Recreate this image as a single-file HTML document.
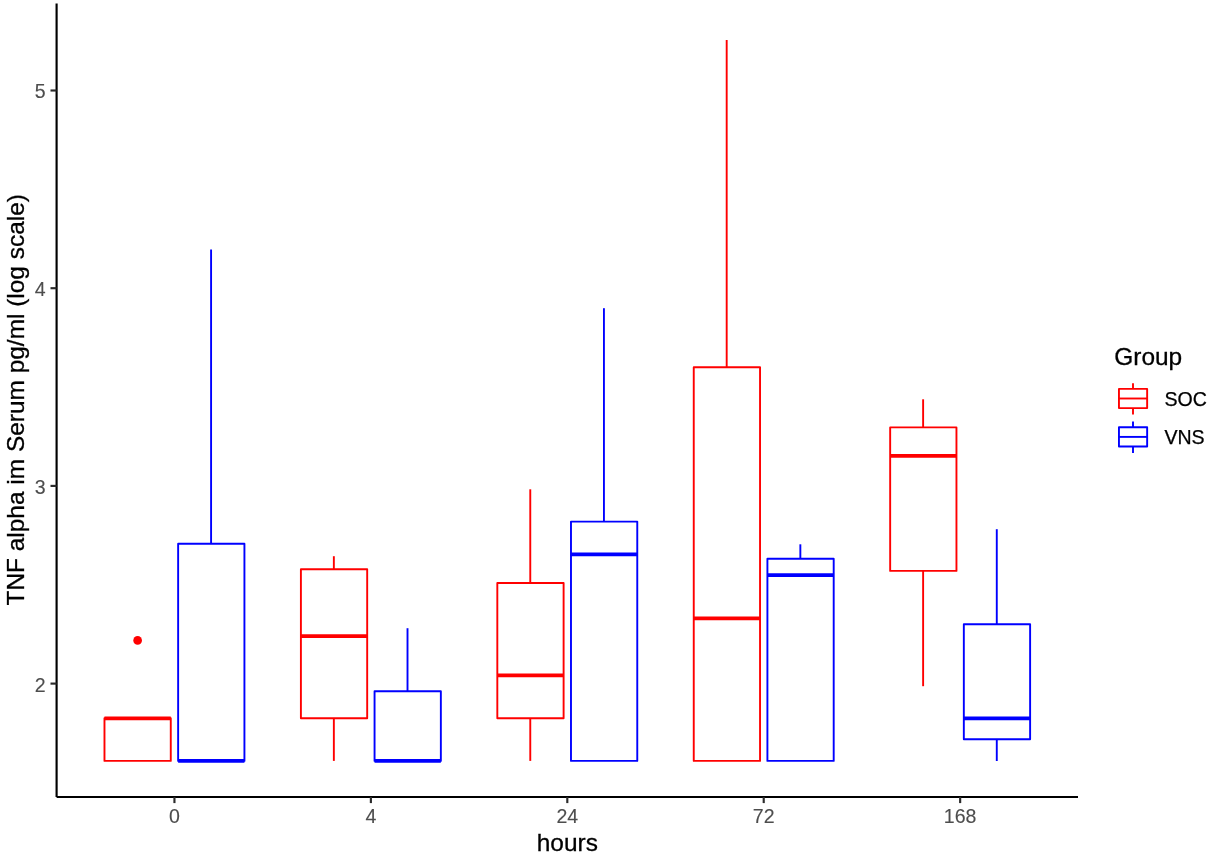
<!DOCTYPE html>
<html><head><meta charset="utf-8"><title>plot</title>
<style>html,body{margin:0;padding:0;background:#fff}svg{display:block}</style></head>
<body>
<svg width="1210" height="857" viewBox="0 0 1210 857">
<rect width="1210" height="857" fill="#fff"/>
<g stroke="#FF0000" fill="none" stroke-width="1.9">
<rect x="104.48" y="718.3" width="66.29" height="42.60000000000002" fill="#fff" stroke-linejoin="round"/>
<line x1="104.48" x2="170.77" y1="718.3" y2="718.3" stroke-width="3.8"/>
</g>
<g stroke="#0000FF" fill="none" stroke-width="1.9">
<line x1="211.08" x2="211.08" y1="543.8" y2="249.6"/>
<rect x="178.14" y="543.8" width="66.29" height="217.10000000000002" fill="#fff" stroke-linejoin="round"/>
<line x1="178.14" x2="244.43" y1="760.9" y2="760.9" stroke-width="3.8"/>
</g>
<g stroke="#FF0000" fill="none" stroke-width="1.9">
<line x1="333.85" x2="333.85" y1="569.3" y2="556.2"/>
<line x1="333.85" x2="333.85" y1="718.3" y2="760.9"/>
<rect x="300.90" y="569.3" width="66.29" height="149.0" fill="#fff" stroke-linejoin="round"/>
<line x1="300.90" x2="367.19" y1="636.2" y2="636.2" stroke-width="3.8"/>
</g>
<g stroke="#0000FF" fill="none" stroke-width="1.9">
<line x1="407.51" x2="407.51" y1="691.2" y2="628.2"/>
<rect x="374.56" y="691.2" width="66.29" height="69.69999999999993" fill="#fff" stroke-linejoin="round"/>
<line x1="374.56" x2="440.85" y1="760.9" y2="760.9" stroke-width="3.8"/>
</g>
<g stroke="#FF0000" fill="none" stroke-width="1.9">
<line x1="530.27" x2="530.27" y1="583" y2="489.3"/>
<line x1="530.27" x2="530.27" y1="718.3" y2="760.9"/>
<rect x="497.32" y="583" width="66.29" height="135.29999999999995" fill="#fff" stroke-linejoin="round"/>
<line x1="497.32" x2="563.62" y1="675.4" y2="675.4" stroke-width="3.8"/>
</g>
<g stroke="#0000FF" fill="none" stroke-width="1.9">
<line x1="603.93" x2="603.93" y1="521.6" y2="308.2"/>
<rect x="570.98" y="521.6" width="66.29" height="239.29999999999995" fill="#fff" stroke-linejoin="round"/>
<line x1="570.98" x2="637.28" y1="554.4" y2="554.4" stroke-width="3.8"/>
</g>
<g stroke="#FF0000" fill="none" stroke-width="1.9">
<line x1="726.69" x2="726.69" y1="367.3" y2="40"/>
<rect x="693.75" y="367.3" width="66.29" height="393.59999999999997" fill="#fff" stroke-linejoin="round"/>
<line x1="693.75" x2="760.04" y1="618.4" y2="618.4" stroke-width="3.8"/>
</g>
<g stroke="#0000FF" fill="none" stroke-width="1.9">
<line x1="800.35" x2="800.35" y1="558.7" y2="544.3"/>
<rect x="767.41" y="558.7" width="66.29" height="202.19999999999993" fill="#fff" stroke-linejoin="round"/>
<line x1="767.41" x2="833.70" y1="575.2" y2="575.2" stroke-width="3.8"/>
</g>
<g stroke="#FF0000" fill="none" stroke-width="1.9">
<line x1="923.12" x2="923.12" y1="427.4" y2="399.3"/>
<line x1="923.12" x2="923.12" y1="570.9" y2="686.2"/>
<rect x="890.17" y="427.4" width="66.29" height="143.5" fill="#fff" stroke-linejoin="round"/>
<line x1="890.17" x2="956.46" y1="455.8" y2="455.8" stroke-width="3.8"/>
</g>
<g stroke="#0000FF" fill="none" stroke-width="1.9">
<line x1="996.78" x2="996.78" y1="624.2" y2="529.2"/>
<line x1="996.78" x2="996.78" y1="739.2" y2="761"/>
<rect x="963.83" y="624.2" width="66.29" height="115.0" fill="#fff" stroke-linejoin="round"/>
<line x1="963.83" x2="1030.12" y1="718.3" y2="718.3" stroke-width="3.8"/>
</g>
<circle cx="137.62" cy="640.4" r="4.34" fill="#FF0000"/>
<g stroke="#000" stroke-width="2.15" fill="none">
<line x1="56.6" x2="56.6" y1="3.4" y2="797.0"/>
<line x1="56.6" x2="1078.0" y1="797.0" y2="797.0"/>
</g>
<g stroke="#2b2b2b" stroke-width="2.15">
<line x1="50.5" x2="56.6" y1="90.5" y2="90.5"/>
<line x1="50.5" x2="56.6" y1="288.2" y2="288.2"/>
<line x1="50.5" x2="56.6" y1="485.9" y2="485.9"/>
<line x1="50.5" x2="56.6" y1="683.6" y2="683.6"/>
<line x1="174.45" x2="174.45" y1="797.0" y2="803.1"/>
<line x1="370.88" x2="370.88" y1="797.0" y2="803.1"/>
<line x1="567.30" x2="567.30" y1="797.0" y2="803.1"/>
<line x1="763.72" x2="763.72" y1="797.0" y2="803.1"/>
<line x1="960.15" x2="960.15" y1="797.0" y2="803.1"/>
</g>
<g font-family="Liberation Sans, Arial, sans-serif" fill="#4D4D4D" stroke="#4D4D4D" stroke-width="0.12" font-size="19.56">
<text x="45.6" y="98" text-anchor="end">5</text>
<text x="45.6" y="296" text-anchor="end">4</text>
<text x="45.6" y="494.2" text-anchor="end">3</text>
<text x="45.6" y="692" text-anchor="end">2</text>
<text x="174.45" y="822.7" text-anchor="middle">0</text>
<text x="370.88" y="822.7" text-anchor="middle">4</text>
<text x="567.30" y="822.7" text-anchor="middle">24</text>
<text x="763.72" y="822.7" text-anchor="middle">72</text>
<text x="960.15" y="822.7" text-anchor="middle">168</text>
</g>
<g font-family="Liberation Sans, Arial, sans-serif" fill="#000" stroke="#000" stroke-width="0.3" font-size="24.44">
<text x="567.30" y="851" text-anchor="middle">hours</text>
<text transform="translate(24.1,399.80) rotate(-90)" text-anchor="middle">TNF alpha im Serum pg/ml (log scale)</text>
<text x="1114.3" y="364.8">Group</text>
</g>
<g stroke="#FF0000" fill="none" stroke-width="1.9">
<line x1="1133.0" x2="1133.0" y1="383.14" y2="388.90000000000003"/>
<line x1="1133.0" x2="1133.0" y1="408.1" y2="414.56"/>
<rect x="1118.9499999999998" y="388.90000000000003" width="28.199999999999996" height="19.2" stroke-linejoin="round"/>
<line x1="1118.9499999999998" x2="1147.1499999999999" y1="398.5" y2="398.5"/>
</g>
<text x="1164.4" y="405.5" font-family="Liberation Sans, Arial, sans-serif" font-size="19.56" fill="#000" stroke="#000" stroke-width="0.25">SOC</text>
<g stroke="#0000FF" fill="none" stroke-width="1.9">
<line x1="1133.0" x2="1133.0" y1="421.53999999999996" y2="427.3"/>
<line x1="1133.0" x2="1133.0" y1="446.5" y2="452.96"/>
<rect x="1118.9499999999998" y="427.3" width="28.199999999999996" height="19.2" stroke-linejoin="round"/>
<line x1="1118.9499999999998" x2="1147.1499999999999" y1="436.9" y2="436.9"/>
</g>
<text x="1164.4" y="443.9" font-family="Liberation Sans, Arial, sans-serif" font-size="19.56" fill="#000" stroke="#000" stroke-width="0.25">VNS</text>
</svg>
</body></html>
